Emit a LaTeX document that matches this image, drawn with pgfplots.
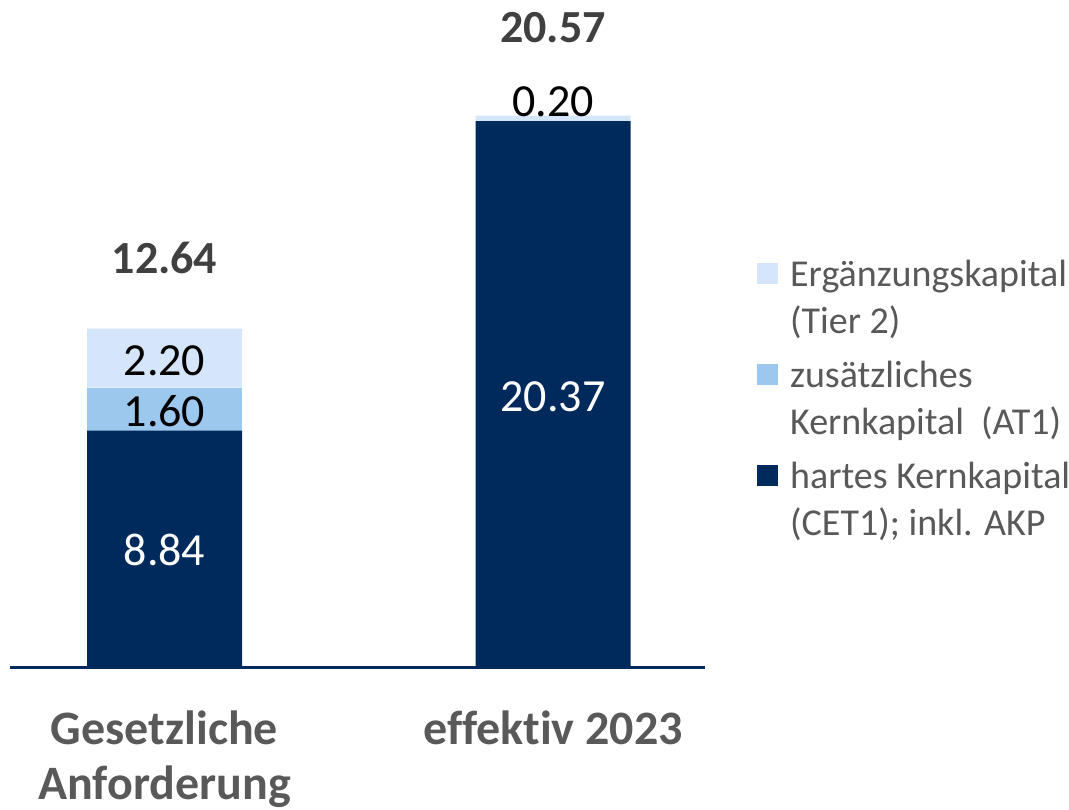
\documentclass[border=0pt]{standalone}
\usepackage{pgfplots}
\pgfplotsset{compat=1.18}
\usepackage{fontspec}
\setmainfont[Ligatures=NoCommon]{Carlito}
\definecolor{cet}{HTML}{002A5C}
\definecolor{atone}{HTML}{9DC8ED}
\definecolor{tiertwo}{HTML}{D5E6FA}
\definecolor{lab}{HTML}{595959}
\definecolor{tot}{HTML}{404040}
\tikzset{vl/.style={font=\fontsize{46}{50}\selectfont, anchor=center, inner sep=0pt}}
\begin{document}
\begin{tikzpicture}
\useasboundingbox (-10pt,-142pt) rectangle (1059pt,668pt);
\begin{axis}[
  scale only axis, width=695pt, height=644.4pt,
  xmin=-0.3977, xmax=1.3912, ymin=0, ymax=24,
  ybar stacked, bar width=155pt,
  axis x line*=bottom, axis y line=none,
  x axis line style={draw=cet, line width=3pt},
  xtick={0,1}, xticklabels={{Gesetzliche\\Anforderung},{effektiv 2023}},
  major tick length=0pt,
  xticklabel style={align=center, font=\fontsize{48}{55}\selectfont\bfseries, text=lab, anchor=north, inner sep=0pt, yshift=-43pt},
  ytick=\empty,
  clip=false,
  reverse legend,
  legend cell align=left,
  legend style={draw=none, fill=none, at={(rel axis cs:1.0748,0.636)}, anchor=north west,
    inner sep=0pt, row sep=22pt, column sep=10pt,
    font=\fontsize{38}{47}\selectfont, text=lab,
    nodes={align=left}},
  legend image code/.code={\fill[#1] (0pt,14pt) rectangle (21pt,35pt);},
]
\addplot[fill=cet, draw=none] coordinates {(0,8.84) (1,20.37)};
\addplot[fill=atone, draw=none] coordinates {(0,1.60) (1,0)};
\addplot[fill=tiertwo, draw=none] coordinates {(0,2.20) (1,0.20)};
\legend{{hartes Kernkapital\\(CET1); inkl. AKP},{zusätzliches\\Kernkapital~~(AT1)},{Ergänzungskapital\\(Tier 2)}}
\coordinate (a) at (axis cs:0,4.39);
\coordinate (b) at (axis cs:0,9.58);
\coordinate (c) at (axis cs:0,11.45);
\coordinate (d) at (axis cs:1,10.09);
\coordinate (e) at (axis cs:1,21.08);
\coordinate (f) at (axis cs:0,15.27);
\coordinate (g) at (axis cs:1,23.84);
\end{axis}
\node[vl, text=white] at (a) {8.84};
\node[vl, text=black] at (b) {1.60};
\node[vl, text=black] at (c) {2.20};
\node[vl, text=white] at (d) {20.37};
\node[vl, text=black] at (e) {0.20};
\node[vl, text=tot, font=\fontsize{46}{50}\selectfont\bfseries] at (f) {12.64};
\node[vl, text=tot, font=\fontsize{46}{50}\selectfont\bfseries] at (g) {20.57};
\end{tikzpicture}
\end{document}
